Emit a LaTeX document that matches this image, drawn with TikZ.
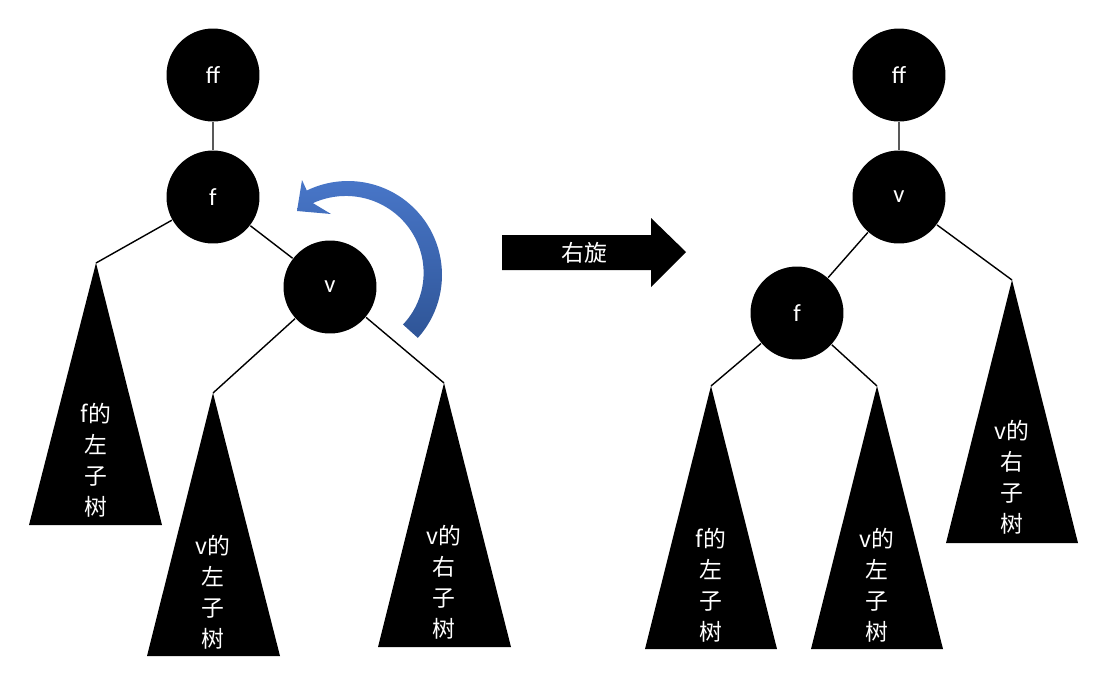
\documentclass[tikz,border=0pt]{standalone}
\usepackage{fontspec}
\setmainfont{Carlito}
\newfontfamily\cjk{Noto Sans CJK SC}
\definecolor{arcblue}{RGB}{72,118,200}
\definecolor{arcdark}{RGB}{47,85,151}

\begin{document}
\begin{tikzpicture}[x=0.02cm,y=-0.02cm,line width=0.8pt,
    vtx/.style={circle,fill=black,text=white,minimum size=1.86cm,inner sep=0pt,font=\fontsize{14}{16}\selectfont},
    sub/.style={text=white,align=center,inner sep=0pt,font=\cjk\fontsize{13}{17.6}\selectfont}]
\useasboundingbox (0,0) rectangle (1100,690);

        % before the rotation
        \node[vtx] (Lff) at (213,75)  {ff};
        \node[vtx] (Lf)  at (213,197) {f};
        \node[vtx] (Lv)  at (330,287) {v};
        \coordinate (Lfl) at (96,263);
        \coordinate (Lvl) at (213,393);
        \coordinate (Lvr) at (444,383);

        \fill (Lfl) -- (29,525)  -- (162,525) -- cycle;
        \fill (Lvl) -- (147,656) -- (280,656) -- cycle;
        \fill (Lvr) -- (378,647) -- (511,647) -- cycle;
        \node[sub] (tLfl) at (96,460)  {f的\\左\\子\\树};
        \node[sub] (tLvl) at (213,592) {v的\\左\\子\\树};
        \node[sub] (tLvr) at (444,582) {v的\\右\\子\\树};

        \draw (Lff) -- (Lf)  (Lf) -- (Lv)  (Lf) -- (Lfl)
              (Lv) -- (Lvl)  (Lv) -- (Lvr);

        % turning arrow
        \shade[top color=arcblue,bottom color=arcdark]
              plot[domain=42:-116,samples=50] ({348+94*cos(\x)},{275+94*sin(\x)})
              -- (302,180) -- (297,211) -- (331,214)
              -- plot[domain=-116:42,samples=50] ({348+(80-6*(\x+116)/158)*cos(\x)},{275+(80-6*(\x+116)/158)*sin(\x)})
              -- cycle;

        % block arrow
        \fill (502,235) -- (651,235) -- (651,218) -- (686,252)
              -- (651,287) -- (651,270) -- (502,270) -- cycle;
        \node[text=white,font=\cjk\fontsize{13}{15}\selectfont] (rot) at (584,253) {右旋};

        % after the rotation
        \node[vtx] (Rff) at (899,75)  {ff};
        \node[vtx] (Rv)  at (899,197) {v};
        \node[vtx] (Rf)  at (797,313) {f};
        \coordinate (Rvr) at (1012,280);
        \coordinate (Rfl) at (711,386);
        \coordinate (Rfr) at (877,386);

        \fill (Rvr) -- (946,543) -- (1078,543) -- cycle;
        \fill (Rfl) -- (645,649) -- (777,649) -- cycle;
        \fill (Rfr) -- (811,649) -- (943,649) -- cycle;
        \node[sub] (tRvr) at (1012,477) {v的\\右\\子\\树};
        \node[sub] (tRfl) at (711,585)  {f的\\左\\子\\树};
        \node[sub] (tRfr) at (877,585)  {v的\\左\\子\\树};

        \draw (Rff) -- (Rv)  (Rv) -- (Rf)  (Rv) -- (Rvr)
              (Rf) -- (Rfl)  (Rf) -- (Rfr);
\end{tikzpicture}
\end{document}
